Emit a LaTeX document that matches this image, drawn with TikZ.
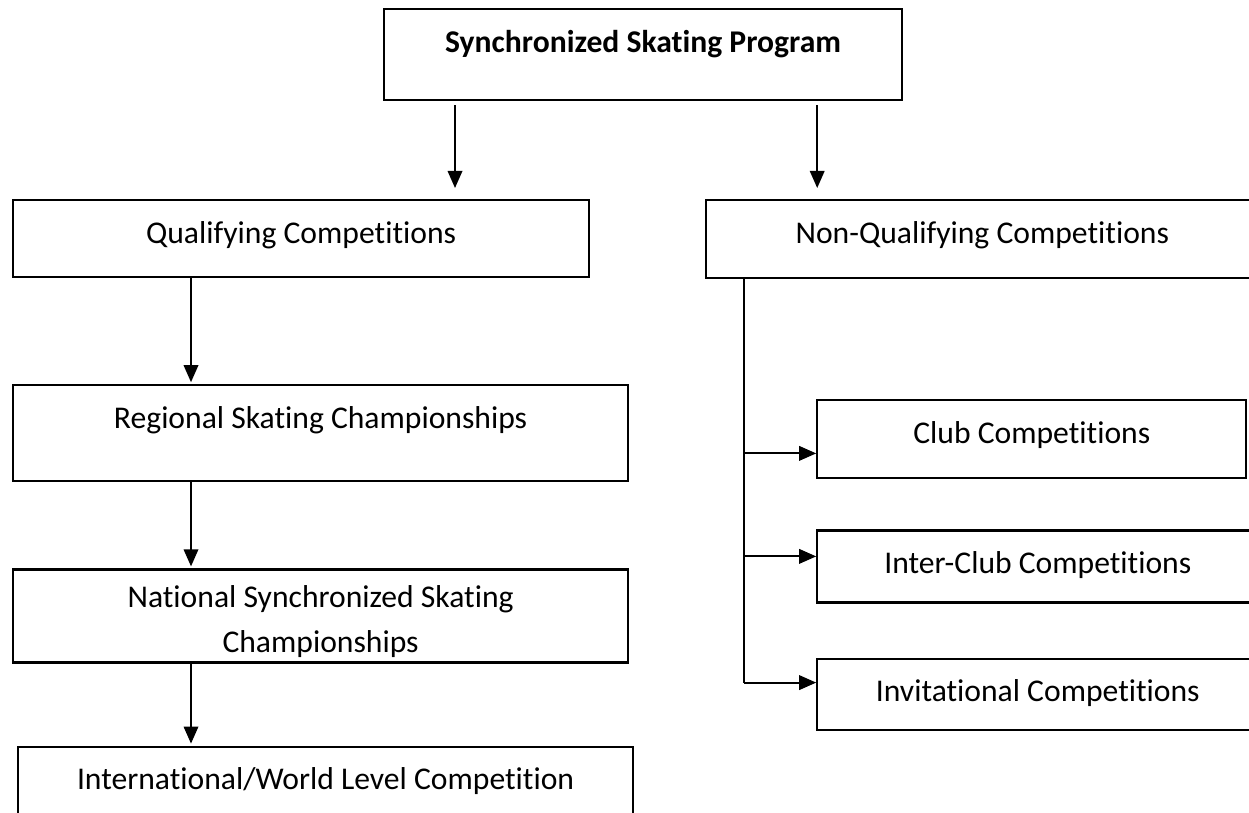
\documentclass[tikz,border=0pt]{standalone}
\usepackage{fontspec}
\setmainfont[Ligatures=NoCommon]{Carlito}
\usepackage{tikz}
\usetikzlibrary{arrows.meta, positioning}

\begin{document}
\begin{tikzpicture}[font=\fontsize{18}{25.6}\selectfont,
        box/.style={draw, line width=1.25pt, inner sep=0pt, text height=0.86cm},
        arr/.style={-{Triangle[length=0.34cm, width=0.29cm]}, line width=1.05pt}]
        \path[use as bounding box] (0,0) rectangle (24.98,-16.26);
        \clip (0,0) rectangle (24.98,-16.26);

        \node (prog) [box, anchor=north west, minimum width=10.36cm, text depth=0.96cm] at (7.66,-0.16) {\textbf{Synchronized Skating Program}};

        \node (qual) [box, anchor=north west, minimum width=11.52cm, text depth=0.68cm] at (0.24,-3.98) {Qualifying Competitions};
        \node (nonq) [box, right=2.3cm of qual.north east, anchor=north west, minimum width=11.04cm, text depth=0.7cm] {Non-Qualifying Competitions};

        \node (reg) [box, below=2.12cm of qual.south west, anchor=north west, minimum width=12.3cm, text depth=1.06cm] {Regional Skating Championships};
        \node (nat) [box, below=1.72cm of reg.south west, anchor=north west, minimum width=12.3cm, align=center, text height=1.66cm, text depth=0.2cm] {National Synchronized Skating\\Championships};
        \node (intl) [box, below right=1.64cm and 0.1cm of nat.south west, anchor=north west, minimum width=12.3cm, text depth=1.06cm] {International/World Level Competition};

        \node (club) [box, below right=2.4cm and 2.22cm of nonq.south west, anchor=north west, minimum width=8.58cm, text depth=0.7cm] {Club Competitions};
        \node (inter) [box, below=1cm of club.south west, anchor=north west, minimum width=8.82cm, text depth=0.58cm] {Inter-Club Competitions};
        \node (invit) [box, below=1.08cm of inter.south west, anchor=north west, minimum width=8.82cm, text depth=0.56cm] {Invitational Competitions};

        \coordinate (pl) at ([xshift=1.44cm]prog.south west);
        \coordinate (pr) at ([xshift=-1.72cm]prog.south east);
        \coordinate (ql) at ([xshift=3.58cm]qual.south west);
        \coordinate (nt) at ([xshift=0.78cm]nonq.south west);
        \coordinate (cb) at ([yshift=0.52cm]club.south west);
        \coordinate (ib) at ([yshift=-0.54cm]inter.north west);
        \coordinate (vb) at ([yshift=-0.5cm]invit.north west);

        \draw[arr, shorten <=0.08cm, shorten >=0.22cm] (pl) -- (pl |- qual.north);
        \draw[arr, shorten <=0.08cm, shorten >=0.22cm] (pr) -- (pr |- nonq.north);
        \draw[arr, shorten >=0.04cm] (ql) -- (ql |- reg.north);
        \draw[arr, shorten >=0.04cm] (ql |- reg.south) -- (ql |- nat.north);
        \draw[arr, shorten >=0.04cm] (ql |- nat.south) -- (ql |- intl.north);

        \draw[line width=1.05pt] (nt) -- (nt |- vb);
        \draw[arr] (nt |- cb) -- (cb);
        \draw[arr] (nt |- ib) -- (ib);
        \draw[arr] (nt |- vb) -- (vb);
    \end{tikzpicture}
\end{document}
